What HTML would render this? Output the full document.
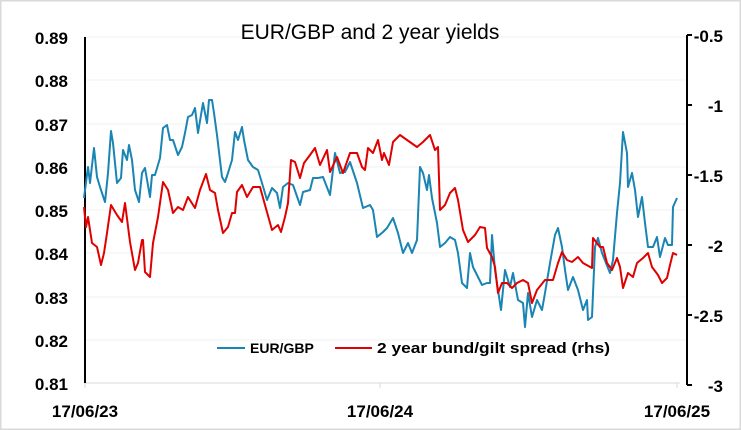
<!DOCTYPE html>
<html><head><style>
body{margin:0;background:#fff}
svg{display:block}
text{font-family:"Liberation Sans",sans-serif}
</style></head><body>
<svg width="741" height="430" viewBox="0 0 741 430">
<rect x="0.5" y="0.5" width="740" height="429" fill="#fff" stroke="#d9d9d9" stroke-width="2"/>
<g stroke="#f0f0f0" stroke-width="1">
<line x1="85" y1="37" x2="687" y2="37"/><line x1="85" y1="80" x2="687" y2="80"/><line x1="85" y1="124" x2="687" y2="124"/><line x1="85" y1="167" x2="687" y2="167"/><line x1="85" y1="210" x2="687" y2="210"/><line x1="85" y1="253" x2="687" y2="253"/><line x1="85" y1="297" x2="687" y2="297"/><line x1="85" y1="340" x2="687" y2="340"/>
</g>
<line x1="85" y1="383" x2="680" y2="383" stroke="#d9d9d9"/>
<g stroke="#d9d9d9"><line x1="85" y1="383" x2="85" y2="388"/><line x1="380" y1="383" x2="380" y2="388"/><line x1="677" y1="383" x2="677" y2="388"/></g>
<line x1="85" y1="37" x2="85" y2="383" stroke="#000" stroke-width="2"/>
<line x1="687" y1="35" x2="687" y2="385" stroke="#000" stroke-width="2"/>
<g stroke="#000" stroke-width="2"><line x1="687" y1="35" x2="692" y2="35"/><line x1="687" y1="105" x2="692" y2="105"/><line x1="687" y1="175" x2="692" y2="175"/><line x1="687" y1="245" x2="692" y2="245"/><line x1="687" y1="315" x2="692" y2="315"/><line x1="687" y1="385" x2="692" y2="385"/></g>
<text x="370" y="39" font-size="21" text-anchor="middle" fill="#000">EUR/GBP and 2 year yields</text>
<g font-size="17" font-weight="bold" fill="#000" text-anchor="end">
<text x="68" y="44">0.89</text><text x="68" y="87">0.88</text><text x="68" y="131">0.87</text><text x="68" y="174">0.86</text><text x="68" y="217">0.85</text><text x="68" y="260">0.84</text><text x="68" y="304">0.83</text><text x="68" y="347">0.82</text><text x="68" y="390">0.81</text>
</g>
<g font-size="17" font-weight="bold" fill="#000" text-anchor="end">
<text x="723" y="42">-0.5</text><text x="723" y="112">-1</text><text x="723" y="182">-1.5</text><text x="723" y="252">-2</text><text x="723" y="322">-2.5</text><text x="723" y="392">-3</text>
</g>
<g font-size="17" font-weight="bold" fill="#000" text-anchor="middle">
<text x="85" y="417">17/06/23</text><text x="380" y="417">17/06/24</text><text x="677" y="417">17/06/25</text>
</g>
<polyline fill="none" stroke="#1a84b3" stroke-width="2" stroke-linejoin="round" points="84,198 88,167 90,183 94,148 97,177 100,187 105,202 107,183 108,173 111,131 113,143 117,183 121,178 123,150 127,160 129,145 132,160 135,190 139,202 142,173 145,168 150,197 152,175 155,175 160,158 163,128 167,125 170,140 173,140 178,155 182,147 185,133 188,117 192,115 195,108 198,133 203,103 207,123 209,100 212,100 214,113 217,135 222,177 225,182 228,173 232,160 235,132 238,140 242,127 244,140 248,160 253,167 258,170 262,183 267,200 272,188 277,193 280,208 283,187 288,183 293,185 300,205 303,192 310,190 313,178 318,178 323,177 330,195 335,153 340,173 345,172 350,162 357,183 363,208 370,205 373,210 377,237 383,232 387,228 393,218 398,233 403,253 408,243 412,253 417,240 420,167 423,173 427,190 429,175 432,198 437,223 440,247 445,243 450,237 455,240 458,253 462,283 467,288 470,253 473,267 478,277 482,285 487,283 490,283 492,235 495,270 498,290 501,310 505,270 510,287 513,273 518,300 523,303 525,327 528,293 532,317 537,300 542,310 545,293 550,263 555,235 558,228 562,247 565,270 568,290 573,277 578,290 583,310 587,300 588,320 592,317 595,247 598,238 602,253 610,273 613,260 617,213 620,183 623,132 627,153 628,187 632,173 635,190 638,217 642,197 645,223 648,247 653,247 657,237 660,257 665,238 668,245 672,245 673,207 677,198"/>
<polyline fill="none" stroke="#e00000" stroke-width="2" stroke-linejoin="round" points="84,207 86,227 88,217 92,243 97,247 101,265 104,253 107,233 111,205 117,215 122,222 125,203 130,242 135,270 138,263 142,240 143,240 145,272 150,277 153,243 158,217 163,182 168,190 173,213 178,207 183,210 188,197 195,208 200,190 206,174 210,190 215,193 218,210 223,233 228,227 232,213 235,213 237,192 242,185 247,197 253,187 260,187 265,205 272,230 278,225 281,232 285,217 288,203 291,160 295,162 300,178 304,163 310,155 315,148 320,165 327,150 330,172 337,157 343,173 350,153 357,153 362,167 365,170 368,148 373,153 378,140 382,160 384,153 389,165 393,142 400,135 407,140 417,147 423,142 430,135 435,150 438,147 440,210 445,205 450,193 455,188 458,200 463,230 468,242 475,235 480,227 485,228 487,248 492,257 495,267 498,293 502,283 507,283 512,288 517,283 523,280 528,283 532,303 537,290 545,280 553,280 558,263 562,252 567,260 572,262 578,257 583,263 592,268 593,238 600,247 603,247 607,263 612,270 617,258 620,267 623,288 628,273 633,277 637,263 643,258 648,253 652,267 658,275 662,283 667,278 670,265 673,253 677,255"/>
<line x1="217" y1="348" x2="245" y2="348" stroke="#1a84b3" stroke-width="2"/>
<text x="250" y="353" font-size="14" font-weight="bold" fill="#000">EUR/GBP</text>
<line x1="335" y1="348" x2="372" y2="348" stroke="#e00000" stroke-width="2"/>
<text x="377" y="353" font-size="15" font-weight="bold" fill="#000" textLength="233" lengthAdjust="spacingAndGlyphs">2 year bund/gilt spread (rhs)</text>
</svg>
</body></html>
